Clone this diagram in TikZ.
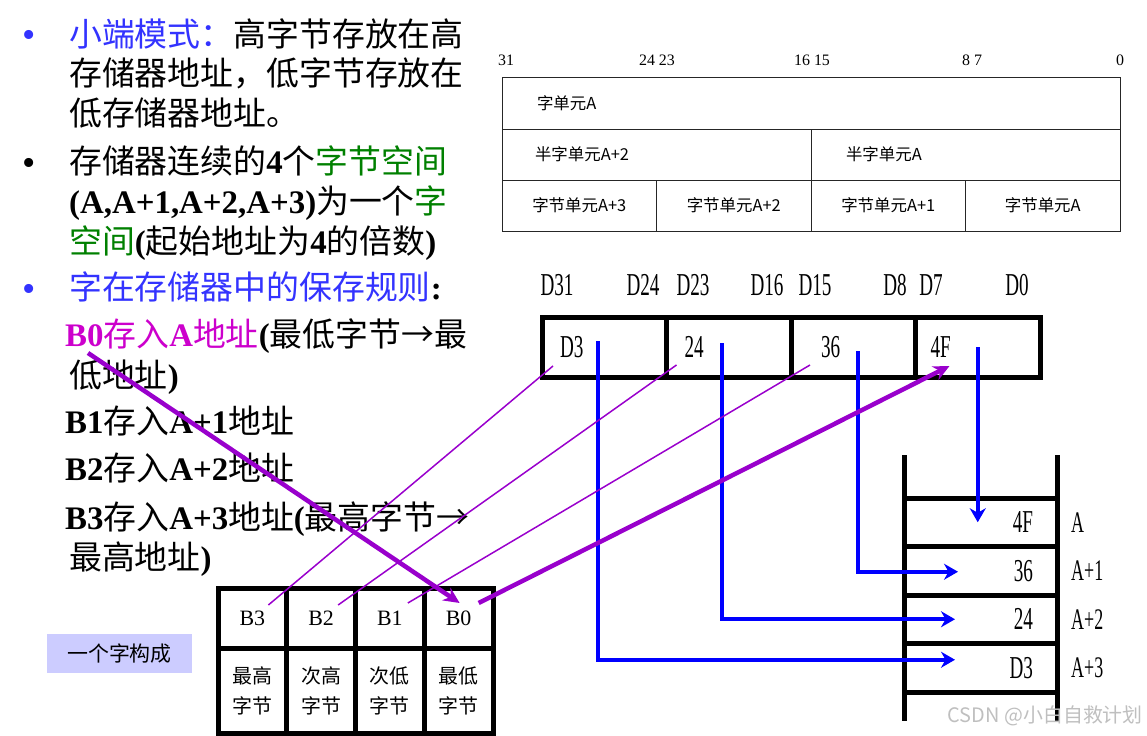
\documentclass[tikz,border=0pt]{standalone}
\usepackage{fontspec}
\usepackage{graphicx}
\setmainfont{Liberation Serif}
\newfontfamily\zhf{Noto Sans CJK SC}
\usetikzlibrary{positioning, arrows.meta, calc}
\definecolor{ruleblue}{RGB}{51,51,255}
\definecolor{spacegreen}{RGB}{0,128,0}
\definecolor{bytemagenta}{RGB}{204,0,204}
\definecolor{linkpurple}{RGB}{153,0,204}
\definecolor{arrowblue}{RGB}{0,0,255}
\definecolor{tagfill}{RGB}{204,204,255}
\newcommand{\zh}[1]{{\zhf #1}}
\newcommand{\narrow}[1]{\scalebox{0.6}[1]{#1}}

\begin{document}
\begin{tikzpicture}[
    x=1bp, y=-1bp,
    node distance=0pt,
    line/.style={inner sep=0pt, anchor=base west, font=\fontsize{33}{36}\selectfont},
    dot/.style={inner sep=0pt, anchor=base, font=\fontsize{38}{40}\selectfont},
    unit/.style={draw=black!85, line width=1bp, outer sep=0pt, inner ysep=0pt,
                 minimum height=51bp, font=\zhf\fontsize{16.5}{18}\selectfont},
    bit/.style={inner sep=0pt, font=\fontsize{16}{18}\selectfont},
    pin/.style={inner sep=0pt, font=\fontsize{32}{34}\selectfont},
    reg/.style={draw, line width=5bp, outer sep=0pt, minimum width=124.5bp,
                minimum height=60bp, inner xsep=18bp, text width=88.5bp,
                align=left, font=\fontsize{32}{34}\selectfont},
    mem/.style={draw, line width=5bp, outer sep=0pt, minimum height=48.5bp,
                inner xsep=24bp, text width=105bp, align=right,
                font=\fontsize{32}{34}\selectfont},
    addr/.style={inner sep=0pt, anchor=west, font=\fontsize{30}{32}\selectfont},
    bytehi/.style={draw, line width=5bp, outer sep=0pt, minimum width=68.75bp,
                   minimum height=60bp, inner sep=0pt, font=\fontsize{22}{24}\selectfont},
    bytelo/.style={bytehi, minimum height=85bp, align=center,
                   font=\zhf\fontsize{20}{30}\selectfont},
    tag/.style={fill=tagfill, minimum width=145bp, minimum height=39bp,
                inner sep=0pt, font=\zhf\fontsize{21}{24}\selectfont},
    barr/.style={draw=arrowblue, line width=4bp, -{Stealth[length=14bp, width=16bp]}},
    plink/.style={draw=linkpurple, line width=1.5bp},
    pmove/.style={draw=linkpurple, line width=4.5bp, -{Stealth[length=16bp, width=15bp]}},
  ]
  \useasboundingbox (0,0) rectangle (1147,736);

  % Left text
  \node[dot, text=ruleblue] (d1) at (29,48) {\textbullet};
  \node[line] (t1a) at (69,47) {{\color{ruleblue}\zh{小端模式：}}\zh{高字节存放在高}};
  \node[line] (t1b) at (69,86) {\zh{存储器地址，低字节存放在}};
  \node[line] (t1c) at (69,125) {\zh{低存储器地址。}};
  \node[dot] (d2) at (29,175) {\textbullet};
  \node[line] (t2a) at (69,173) {\zh{存储器连续的}\textbf{4}\zh{个}{\color{spacegreen}\zh{字节空间}}};
  \node[line] (t2b) at (69,213) {\textbf{(A,A+1,A+2,A+3)}\zh{为一个}{\color{spacegreen}\zh{字}}};
  \node[line] (t2c) at (69,253) {{\color{spacegreen}\zh{空间}}\textbf{(}\zh{起始地址为}\textbf{4}\zh{的倍数}\textbf{)}};
  \node[dot, text=ruleblue] (d3) at (29,301) {\textbullet};
  \node[line] (t3) at (69,299) {{\color{ruleblue}\zh{字在存储器中的保存规则}}\textbf{:}};
  \node[line] (r0a) at (65,346) {{\color{bytemagenta}\textbf{B0}\zh{存入}\textbf{A}\zh{地址}}\textbf{(}\zh{最低字节→最}};
  \node[line] (r0b) at (69,387) {\zh{低地址}\textbf{)}};
  \node[line] (r1) at (65,433) {\textbf{B1}\zh{存入}\textbf{A+1}\zh{地址}};
  \node[line] (r2) at (65,480) {\textbf{B2}\zh{存入}\textbf{A+2}\zh{地址}};
  \node[line] (r3a) at (65,529) {\textbf{B3}\zh{存入}\textbf{A+3}\zh{地址}\textbf{(}\zh{最高字节→}};
  \node[line] (r3b) at (69,569) {\zh{最高地址}\textbf{)}};

  % Word / half-word / byte units
  \node[bit] (b31) at (506,60) {31};
  \node[bit] (b24) at (657,60) {24 23};
  \node[bit] (b16) at (812,60) {16 15};
  \node[bit] (b8) at (972,60) {8 7};
  \node[bit] (b0) at (1120,60) {0};
  \node[unit, anchor=north west, inner xsep=35bp, text width=548bp, align=left] (word) at (502,78) {字单元A};
  \node[unit, anchor=north west, inner xsep=33bp, text width=243bp, align=left] (half2) at (word.south west) {半字单元A+2};
  \node[unit, anchor=north west, inner xsep=35bp, text width=239bp, align=left] (half0) at (half2.north east) {半字单元A};
  \node[unit, anchor=north west, minimum width=154.5bp] (u3) at (half2.south west) {字节单元A+3};
  \node[unit, minimum width=154.5bp, right=of u3] (u2) {字节单元A+2};
  \node[unit, minimum width=154.5bp, right=of u2] (u1) {字节单元A+1};
  \node[unit, minimum width=154.5bp, right=of u1] (u0) {字节单元A};

  % Register
  \node[pin] (p31) at (557,285) {\narrow{D31}};
  \node[pin] (p24) at (643,285) {\narrow{D24}};
  \node[pin] (p23) at (693,285) {\narrow{D23}};
  \node[pin] (p16) at (767,285) {\narrow{D16}};
  \node[pin] (p15) at (815,285) {\narrow{D15}};
  \node[pin] (p8) at (895,285) {\narrow{D8}};
  \node[pin] (p7) at (931,285) {\narrow{D7}};
  \node[pin] (p0) at (1017,285) {\narrow{D0}};
  \node[reg, anchor=north west] (rD3) at (542,317) {\raisebox{-4bp}{\narrow{D3}}};
  \node[reg, right=of rD3] (r24) {\raisebox{-4bp}{\narrow{24}}};
  \node[reg, right=of r24, inner xsep=30bp, text width=64.5bp] (r36) {\raisebox{-4bp}{\narrow{36}}};
  \node[reg, right=of r36, inner xsep=15bp, text width=94.5bp] (r4F) {\raisebox{-4bp}{\narrow{4F}}};

  % Memory
  \node[mem, anchor=north west] (m0) at (904,498) {\narrow{4F}};
  \node[mem, below=of m0] (m1) {\narrow{36}};
  \node[mem, below=of m1] (m2) {\narrow{24}};
  \node[mem, below=of m2] (m3) {\narrow{D3}};
  \draw[line width=5bp] ([yshift=43bp]m0.north west) -- ([yshift=-29bp]m3.south west);
  \draw[line width=5bp] ([yshift=43bp]m0.north east) -- ([yshift=-29bp]m3.south east);
  \node[addr, right=14bp of m0.east] (a0) {\narrow{A}};
  \node[addr, right=14bp of m1.east] (a1) {\narrow{A+1}};
  \node[addr, right=14bp of m2.east] (a2) {\narrow{A+2}};
  \node[addr, right=14bp of m3.east] (a3) {\narrow{A+3}};

  % Bytes of one word
  \node[bytehi, anchor=north west] (bt3) at (218,588) {B3};
  \node[bytehi, right=of bt3] (bt2) {B2};
  \node[bytehi, right=of bt2] (bt1) {B1};
  \node[bytehi, right=of bt1] (bt0) {B0};
  \node[bytelo, below=of bt3] (bb3) {最高\\字节};
  \node[bytelo, below=of bt2] (bb2) {次高\\字节};
  \node[bytelo, below=of bt1] (bb1) {次低\\字节};
  \node[bytelo, below=of bt0] (bb0) {最低\\字节};
  \node[tag] (tag) at (119.5,653.5) {一个字构成};

  % Register -> memory
  \draw[barr] (r4F.center) -- (r4F.center |- m0.center);
  \draw[barr] ([xshift=5bp,yshift=-4bp]r36.center) |- ([xshift=54bp,yshift=-1bp]m1.west);
  \draw[barr] ([xshift=-7bp,yshift=4bp]r24.center) |- ([xshift=51bp]m2.west);
  \draw[barr] ([xshift=-6bp,yshift=6bp]rD3.center) |- ([xshift=51bp,yshift=8bp]m3.west);

  % Bytes -> register
  \draw[plink] ([xshift=16bp,yshift=13bp]bt3.center) -- ([xshift=11bp,yshift=11bp]rD3.south west);
  \draw[plink] ([xshift=17bp,yshift=13bp]bt2.center) -- ([xshift=10bp,yshift=12bp]r24.south west);
  \draw[plink] ([xshift=18bp,yshift=15bp]bt1.center) -- ([xshift=19bp,yshift=12bp]r36.south west);
  \draw[pmove] ([xshift=20bp,yshift=15bp]bt0.center) -- ([xshift=34bp,yshift=11bp]r4F.south west);
  \draw[pmove] ([xshift=23bp,yshift=-7bp]r0a.base west) -- ([xshift=1bp,yshift=15bp]bt0.center);

  \node[anchor=east, text=black!25, inner sep=0pt, font=\zhf\fontsize{20}{22}\selectfont] (mark) at (1143,716) {CSDN @小白自救计划};
\end{tikzpicture}
\end{document}
